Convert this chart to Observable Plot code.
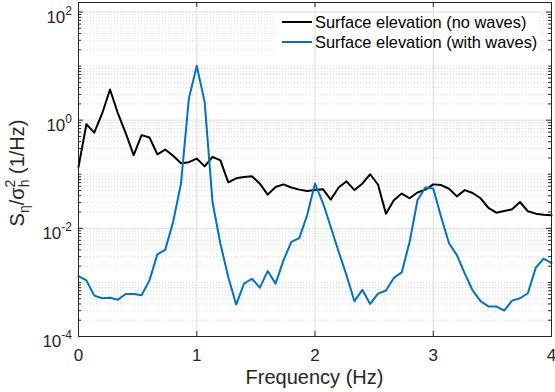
<!DOCTYPE html>
<html><head><meta charset="utf-8">
<script src="https://cdn.jsdelivr.net/npm/d3@7"></script>
<script src="https://cdn.jsdelivr.net/npm/@observablehq/plot@0.6"></script>
<style>body{margin:0;background:#fff} #chart svg{display:block}</style>
</head><body><div id="chart"></div>
<script>
const freq = [0,0.0667,0.1333,0.2,0.2667,0.3333,0.4,0.4667,0.5333,0.6,0.6667,0.7333,0.8,0.8667,0.9333,1,1.0667,1.1333,1.2,1.2667,1.3333,1.4,1.4667,1.5333,1.6,1.6667,1.7333,1.8,1.8667,1.9333,2,2.0667,2.1333,2.2,2.2667,2.3333,2.4,2.4667,2.5333,2.6,2.6667,2.7333,2.8,2.8667,2.9333,3,3.0667,3.1333,3.2,3.2667,3.3333,3.4,3.4667,3.5333,3.6,3.6667,3.7333,3.8,3.8667,3.9333,4];
const noWaves = [0.136,0.84,0.59,1.33,3.7,1.33,0.57,0.225,0.53,0.48,0.234,0.286,0.22,0.16,0.167,0.195,0.14,0.209,0.18,0.071,0.084,0.089,0.092,0.067,0.042,0.058,0.065,0.057,0.052,0.049,0.051,0.053,0.034,0.057,0.074,0.051,0.067,0.100,0.064,0.0187,0.033,0.044,0.036,0.046,0.052,0.065,0.063,0.054,0.039,0.051,0.045,0.036,0.024,0.0195,0.0209,0.0225,0.0307,0.0207,0.0187,0.0179,0.0174];
const withWaves = [1.31e-3,1.09e-3,5.7e-4,5.1e-4,5.2e-4,4.8e-4,6.1e-4,6.1e-4,5.8e-4,1.09e-3,3.3e-3,4.0e-3,0.0131,0.0673,2.52,10.1,2.18,0.0307,5.2e-3,1.25e-3,3.9e-4,9.5e-4,1.17e-3,8.0e-4,1.62e-3,9.5e-4,2.55e-3,5.6e-3,6.6e-3,0.0174,0.0673,0.0297,0.0106,3.7e-3,1.35e-3,4.5e-4,7.3e-4,4.0e-4,6.2e-4,7.1e-4,1.21e-3,1.53e-3,5.6e-3,0.033,0.0567,0.0543,0.0162,5.3e-3,3.2e-3,1.45e-3,7.1e-4,4.5e-4,3.6e-4,3.6e-4,3.0e-4,4.6e-4,5.1e-4,6.3e-4,1.87e-3,2.75e-3,2.28e-3];
const xTicks = [0,1,2,3,4];
const yTicks = [1e-4,1e-2,1,1e2];
const yTickExp = ["-4","-2","0","2"];
const yMax = 150;
const seriesNames = ["Surface elevation (no waves)","Surface elevation (with waves)"];
const seriesColors = ["#000000","#0072BD"];
const xLabel = "Frequency (Hz)";

const yMinor = [];
for (let d = -4; d <= 1; d++) for (let k = 1; k <= 9; k++) {
  const v = k * 10 ** d;
  if (!yTicks.some(t => Math.abs(t - v) / t < 1e-9) && v < yMax) yMinor.push(v);
}
const axisColor = "#262626";
const font = "'Liberation Sans', Arial, Helvetica, sans-serif";

function legendBg() {
  const r = document.createElementNS("http://www.w3.org/2000/svg", "rect");
  r.setAttribute("x", 275); r.setAttribute("y", 13);
  r.setAttribute("width", 265); r.setAttribute("height", 43);
  r.setAttribute("fill", "white");
  return r;
}

const chart = Plot.plot({
  width: 555, height: 392,
  marginLeft: 78, marginRight: 4, marginTop: 2, marginBottom: 56,
  style: {fontFamily: font, background: "white"},
  x: {domain: [0, 4], axis: null},
  y: {type: "log", domain: [1e-4, yMax], axis: null},
  marks: [
    Plot.ruleY(yMinor, {y: d => d, stroke: "#cfcfcf", strokeDasharray: "1,2", strokeWidth: 0.8}),
    Plot.ruleY(yTicks.slice(1), {y: d => d, stroke: "#dedede", strokeWidth: 1}),
    legendBg,
    Plot.ruleX(xTicks.slice(1, 4), {x: d => d, stroke: "#dedede", strokeWidth: 1}),
    Plot.line(freq, {x: d => d, y: (d, i) => noWaves[i], stroke: seriesColors[0], strokeWidth: 2}),
    Plot.line(freq, {x: d => d, y: (d, i) => withWaves[i], stroke: seriesColors[1], strokeWidth: 2}),
    Plot.tickX(xTicks, {x: d => d, insetTop: 329, stroke: axisColor}),
    Plot.tickX(xTicks, {x: d => d, insetBottom: 329, stroke: axisColor}),
    Plot.tickY(yTicks, {y: d => d, insetRight: 468, stroke: axisColor}),
    Plot.tickY(yTicks, {y: d => d, insetLeft: 468, stroke: axisColor}),
    Plot.tickY(yMinor, {y: d => d, insetRight: 470, stroke: axisColor}),
    Plot.tickY(yMinor, {y: d => d, insetLeft: 470, stroke: axisColor}),
    Plot.frame({stroke: axisColor, strokeWidth: 1}),
    Plot.axisX(xTicks, {tickSize: 0, tickPadding: 12, fontSize: 17, fill: axisColor, label: null, tickFormat: d => String(d)})
  ]
});
document.getElementById("chart").appendChild(chart);

const svg = d3.select(chart);
const ys = chart.scale("y"), xs = chart.scale("x");
// y tick labels with superscripts
yTicks.forEach((t, i) => {
  const py = ys.apply(t);
  const tx = svg.append("text").attr("x", 72).attr("y", py + 11).attr("text-anchor", "end")
    .attr("font-family", font).attr("font-size", 17).attr("fill", axisColor);
  tx.append("tspan").text("10");
  tx.append("tspan").attr("font-size", 12).attr("dy", -8).text(yTickExp[i]);
});
// x label
svg.append("text").attr("x", (xs.apply(0) + xs.apply(4)) / 2).attr("y", 384)
  .attr("text-anchor", "middle").attr("font-family", font).attr("font-size", 20).attr("fill", axisColor)
  .text(xLabel);
// y label
const yl = svg.append("text").attr("transform", "translate(23.5,173) rotate(-90)")
  .attr("text-anchor", "middle").attr("font-family", font).attr("font-size", 20).attr("fill", axisColor);
yl.append("tspan").text("S");
yl.append("tspan").attr("font-size", 14).attr("dy", 5).text("η");
yl.append("tspan").attr("dy", -5).text("/σ");
yl.append("tspan").attr("font-size", 14).attr("dy", 5).text("h");
yl.append("tspan").attr("font-size", 14).attr("dx", -7.8).attr("dy", -14).text("2");
yl.append("tspan").attr("dy", 9).text(" (1/Hz)");
// legend
const lg = svg.append("g");
seriesNames.forEach((name, i) => {
  const cy = 22 + i * 20;
  lg.append("line").attr("x1", 282).attr("x2", 312).attr("y1", cy).attr("y2", cy)
    .attr("stroke", seriesColors[i]).attr("stroke-width", 2);
  lg.append("text").attr("x", 315).attr("y", cy).attr("dy", "0.35em").attr("text-anchor", "start")
    .attr("font-family", font).attr("font-size", 16.4).attr("fill", "#000").text(name);
});
</script>
</body></html>
